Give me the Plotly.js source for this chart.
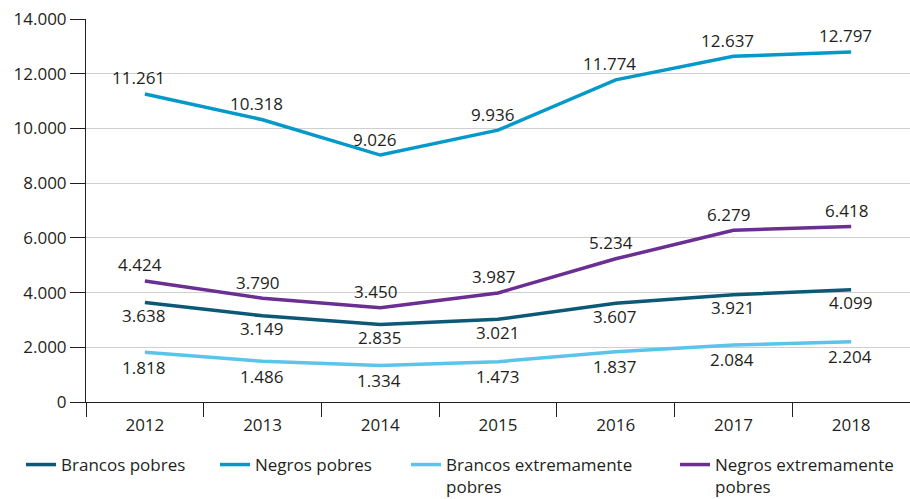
<!DOCTYPE html>
<html>
<head>
<meta charset="utf-8">
<script src="https://cdn.plot.ly/plotly-3.0.1.min.js"></script>
<style>html,body{margin:0;padding:0;background:#fff;}#chart{width:910px;height:499px;}#err{position:absolute;left:200px;top:150px;color:red;font:12px sans-serif;}</style>
</head>
<body>
<div id="chart"></div>
<div id="err"></div>
<script>
window.onerror = function(m){ document.getElementById('err').textContent += ' ' + m; };
const years = ['2012','2013','2014','2015','2016','2017','2018'];
const brancosPobres = [3638, 3149, 2835, 3021, 3607, 3921, 4099];
const negrosPobres = [11261, 10318, 9026, 9936, 11774, 12637, 12797];
const brancosExtremamentePobres = [1818, 1486, 1334, 1473, 1837, 2084, 2204];
const negrosExtremamentePobres = [4424, 3790, 3450, 3987, 5234, 6279, 6418];
const yTicks = [0, 2000, 4000, 6000, 8000, 10000, 12000, 14000];

const FAM = 'Open Sans, Noto Sans, sans-serif';
const font = {family: FAM, size: 17, color: '#231f20'};

const series = [
  {name: 'Brancos pobres', y: brancosPobres, color: '#0d5877', dy: -13, dx: -1, lg: 'legend', lx: 21},
  {name: 'Negros pobres', y: negrosPobres, color: '#0599c9', dy: 16, dx: -6, lg: 'legend2', lx: 215},
  {name: 'Brancos extremamente<br>pobres', y: brancosExtremamentePobres, color: '#5bc4ea', dy: -15, dx: -1, lg: 'legend3', lx: 406},
  {name: 'Negros extremamente<br>pobres', y: negrosExtremamentePobres, color: '#6b2e93', dy: 16, dx: -5, lg: 'legend4', lx: 675}
];

const data = series.map(s => ({
  x: years, y: s.y, name: s.name, type: 'scatter', mode: 'lines',
  line: {color: s.color, width: 3.5}, legend: s.lg, hoverinfo: 'skip'
}));

function fmt(v) {
  const s = String(v);
  return s.length > 3 ? s.slice(0, s.length - 3) + '.' + s.slice(s.length - 3) : s;
}
const annotations = [];
series.forEach(s => {
  s.y.forEach((v, i) => {
    annotations.push({
      x: i, y: v, xref: 'x', yref: 'y', text: fmt(v), showarrow: false,
      xanchor: 'center', yanchor: 'middle', yshift: s.dy, xshift: s.dx,
      font: {family: FAM, size: 17, color: '#231f20'}
    });
  });
});

const layout = {
  width: 910, height: 499,
  margin: {l: 86, r: 0, t: 19, b: 97, autoexpand: false},
  paper_bgcolor: '#fff', plot_bgcolor: '#fff',
  separators: ',.',
  font: font,
  showlegend: true,
  annotations: annotations,
  xaxis: {
    type: 'category', tickson: 'boundaries', ticks: 'outside', ticklen: 14,
    tickcolor: '#231f20', showline: true, linecolor: '#231f20', linewidth: 1,
    showgrid: false, zeroline: false, tickfont: font, ticklabelstandoff: 8,
    range: [-0.5, 6.5]
  },
  yaxis: {
    range: [0, 14000], tickvals: yTicks, tickformat: ',',
    ticks: 'outside', ticklen: 15, tickcolor: '#231f20',
    showline: true, linecolor: '#231f20', linewidth: 1,
    showgrid: true, gridcolor: '#cfcfcf', gridwidth: 1, zeroline: false,
    tickfont: font
  }
};
series.forEach(s => {
  layout[s.lg] = {
    orientation: 'h', xref: 'container', yref: 'container',
    x: s.lx / 910, xanchor: 'left', y: 1 - 447 / 499, yanchor: 'top',
    font: font, valign: 'top', itemwidth: 30, bgcolor: 'rgba(0,0,0,0)'
  };
});

Plotly.newPlot('chart', data, layout, {displayModeBar: false, staticPlot: true})
  .catch(e => { document.getElementById('err').textContent += ' ' + e; });
</script>
</body>
</html>
